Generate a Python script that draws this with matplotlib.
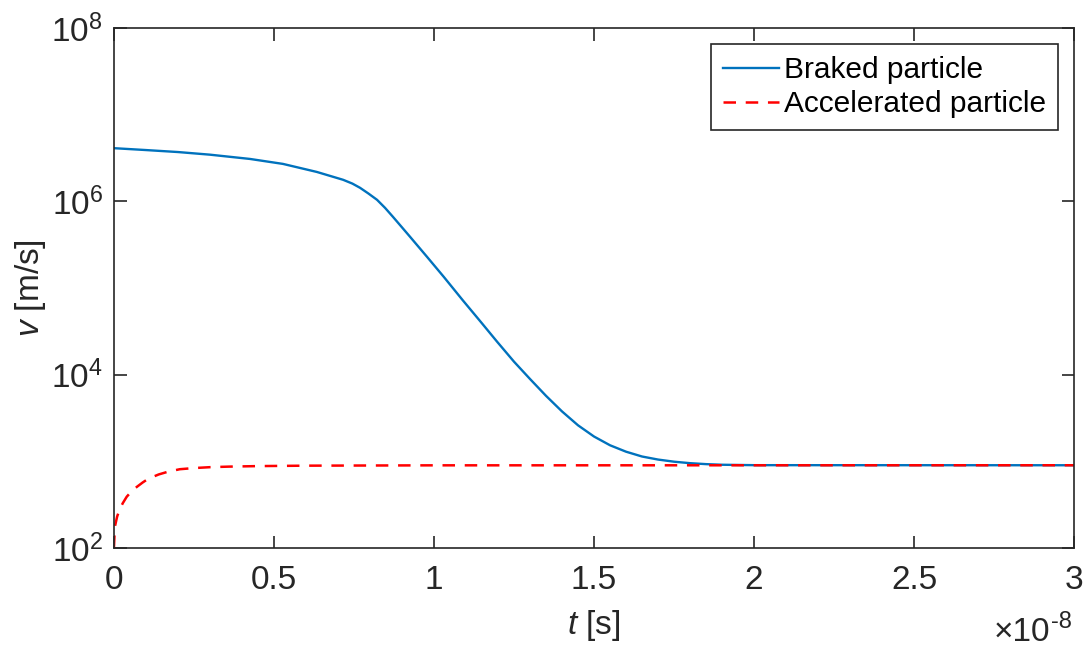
import numpy as np
import matplotlib
matplotlib.use('Agg')
import matplotlib.pyplot as plt
from matplotlib.ticker import FixedLocator, FuncFormatter

plt.rcParams['font.family'] = ['Liberation Sans', 'DejaVu Sans']
plt.rcParams['mathtext.fontset'] = 'custom'
plt.rcParams['mathtext.rm'] = 'Liberation Sans'
plt.rcParams['mathtext.it'] = 'Liberation Sans:italic'
plt.rcParams['lines.scale_dashes'] = False

# time in units of 1e-8 s
t_braked = [0, 0.1, 0.2, 0.3, 0.425, 0.528, 0.634, 0.716, 0.745, 0.769, 0.795,
            0.822, 0.847, 0.872, 0.9, 0.925, 0.978, 1.03, 1.09, 1.15, 1.197,
            1.25, 1.3, 1.35, 1.4, 1.45, 1.5, 1.55, 1.6, 1.65, 1.7, 1.75, 1.8,
            1.85, 1.9, 2.0, 3.0]
v_braked = [4.1e6, 3.9e6, 3.7e6, 3.45e6, 3.08e6, 2.70e6, 2.18e6, 1.77e6, 1.60e6,
            1.43e6, 1.23e6, 1.04e6, 8.4e5, 6.6e5, 5.0e5, 3.9e5, 2.29e5, 1.35e5,
            7.2e4, 3.9e4, 2.4e4, 1.41e4, 8.9e3, 5.69e3, 3.76e3, 2.60e3, 1.93e3,
            1.53e3, 1.29e3, 1135, 1047, 989, 951, 927, 912, 902, 900]

t_accel = [0, 0.003, 0.01, 0.018, 0.028, 0.04, 0.055, 0.072, 0.09, 0.105,
           0.122, 0.14, 0.17, 0.206, 0.25, 0.3, 0.36, 0.45, 0.6, 1.0, 3.0]
v_accel = [100, 176, 230, 280, 330, 390, 450, 508, 570, 620, 662, 705, 760,
           810, 835, 855, 868, 880, 890, 898, 900]

fig = plt.figure(figsize=(10.85, 6.5), dpi=100)
ax = fig.add_axes([0.105, 0.157, 0.885, 0.8])

ax.semilogy(t_braked, v_braked, color='#0072BD', lw=1.7, label='Braked particle')
ax.semilogy(t_accel, v_accel, color='red', lw=1.8, dashes=(9, 7),
            label='Accelerated particle')

ax.set_xlim(0, 3)
ax.set_ylim(1e2, 1e8)
ax.xaxis.set_major_locator(FixedLocator([0, 0.5, 1, 1.5, 2, 2.5, 3]))
ax.xaxis.set_major_formatter(FuncFormatter(lambda x, p: f'{x:g}'))
ax.yaxis.set_major_locator(FixedLocator([1e2, 1e4, 1e6, 1e8]))
ax.yaxis.set_minor_locator(FixedLocator([]))
ax.yaxis.set_major_formatter(FuncFormatter(lambda y, p: f'$\\mathregular{{10^{{{int(round(np.log10(y)))}}}}}$'))

dark = '#262626'
for s in ax.spines.values():
    s.set_color(dark)
    s.set_linewidth(1.2)
ax.tick_params(which='both', direction='in', top=True, right=True, length=9,
               width=1.2, color=dark, labelcolor=dark, labelsize=24)
ax.tick_params(axis='x', pad=12)
ax.tick_params(axis='y', pad=8)

ax.set_xlabel('$t$ [s]', fontsize=24, color=dark, labelpad=9)
ax.set_ylabel('$v$ [m/s]', fontsize=24, color=dark, labelpad=2)

# exponent note at bottom right
fig.text(1050 / 1085, 1 - 641 / 650, '\u00d710', ha='right', va='baseline',
         fontsize=24, color=dark)
fig.text(1072 / 1085, 1 - 628 / 650, '-8', ha='right', va='baseline',
         fontsize=17, color=dark)

leg = ax.legend(loc='upper right', fontsize=21.5, frameon=True, fancybox=False,
                borderaxespad=0.55, handlelength=1.85, handletextpad=0.17,
                borderpad=0.4, labelspacing=0.2)
leg.get_frame().set_edgecolor(dark)
leg.get_frame().set_linewidth(1.2)
leg.get_frame().set_alpha(1)

fig.savefig('out.png', dpi=100)
